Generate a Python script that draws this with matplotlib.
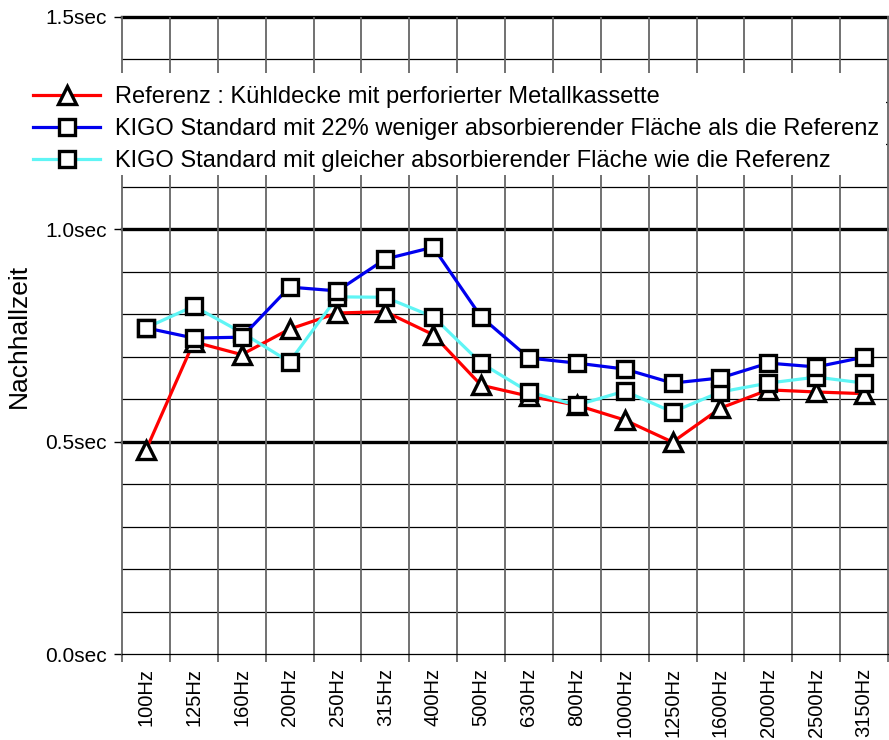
import numpy as np
import matplotlib
matplotlib.use('Agg')
import matplotlib.pyplot as plt
from matplotlib.patches import Rectangle
from matplotlib.ticker import FixedLocator

plt.rcParams['font.family'] = ['Liberation Sans', 'DejaVu Sans']

# ── data ─────────────────────────────────────────────────────────────────────
freqs = ['100Hz', '125Hz', '160Hz', '200Hz', '250Hz', '315Hz', '400Hz', '500Hz',
         '630Hz', '800Hz', '1000Hz', '1250Hz', '1600Hz', '2000Hz', '2500Hz', '3150Hz']

ref = [0.48, 0.735, 0.705, 0.765, 0.803, 0.806, 0.752, 0.633,
       0.607, 0.586, 0.551, 0.499, 0.579, 0.622, 0.617, 0.613]
kigo_less = [0.768, 0.744, 0.746, 0.864, 0.855, 0.930, 0.958, 0.794,
             0.697, 0.685, 0.671, 0.638, 0.650, 0.685, 0.676, 0.699]
kigo_same = [0.768, 0.819, 0.757, 0.688, 0.841, 0.840, 0.794, 0.685,
             0.617, 0.586, 0.619, 0.570, 0.617, 0.638, 0.652, 0.638]

labels = ['Referenz : Kühldecke mit perforierter Metallkassette',
          'KIGO Standard mit 22% weniger absorbierender Fläche als die Referenz',
          'KIGO Standard mit gleicher absorbierender Fläche wie die Referenz']

W, H = 889, 740
fig = plt.figure(figsize=(W / 100, H / 100), dpi=100)
ax = fig.add_axes([122 / W, 1 - 654 / H, (888 - 122) / W, (654 - 17) / H])

x = np.arange(len(freqs))
mk = dict(markeredgewidth=2.4, markeredgecolor='black',
          markerfacecolor='white', linewidth=2.3)
l1, = ax.plot(x, ref, color='#ff0000', marker='^', markersize=12.5, zorder=3, **mk)
l3, = ax.plot(x, kigo_same, color='#5ff5f5', marker='s', markersize=11.5, zorder=4, **mk)
l2, = ax.plot(x, kigo_less, color='#0000ee', marker='s', markersize=11.5, zorder=5, **mk)

ax.set_xlim(-0.5, len(freqs) - 0.5)
ax.set_ylim(0, 1.5)

# grid: thin every 0.1, heavy every 0.5, grey verticals between bands
for v in np.arange(0.1, 1.5, 0.1):
    if abs(v * 2 - round(v * 2)) > 1e-6:
        ax.axhline(v, color='black', lw=0.9, zorder=1)
for v in [0.5, 1.0, 1.5]:
    ax.axhline(v, color='black', lw=2.4, zorder=1, clip_on=False)
for b in np.arange(0.5, len(freqs) - 0.5, 1):
    ax.axvline(b, color='#666666', lw=1.3, zorder=1)

ax.set_xticks(x)
ax.set_xticklabels(freqs, rotation=90, fontsize=14.5)
ax.xaxis.set_minor_locator(FixedLocator(np.arange(-0.5, len(freqs), 1)))
ax.tick_params(axis='x', which='major', length=0, pad=10)
ax.tick_params(axis='x', which='minor', length=6, color='#666666', width=1.3)

ax.set_yticks([0, 0.5, 1.0, 1.5])
ax.set_yticklabels(['0.0sec', '0.5sec', '1.0sec', '1.5sec'], fontsize=15)
ax.tick_params(axis='y', which='major', length=6, width=1.0, pad=5)
ax.set_ylabel('Nachhallzeit', fontsize=19, labelpad=10)

for s in ['left', 'right']:
    ax.spines[s].set_color('#666666')
    ax.spines[s].set_linewidth(1.3)
ax.spines['top'].set_visible(False)
ax.spines['bottom'].set_linewidth(0.9)

# white block that the legend sits on
fig.add_artist(Rectangle((30 / W, 1 - 175 / H), (886 - 30) / W, (175 - 73) / H,
                         transform=fig.transFigure, facecolor='white',
                         edgecolor='none', zorder=2))
leg = fig.legend([l1, l2, l3], labels, loc='upper left',
                 bbox_to_anchor=(33 / W, 1 - 86 / H), frameon=False,
                 fontsize=17, handlelength=2.84, handletextpad=0.64,
                 labelspacing=0.42, borderpad=0, borderaxespad=0)
leg.set_zorder(3)

fig.savefig('out.png', dpi=100)
